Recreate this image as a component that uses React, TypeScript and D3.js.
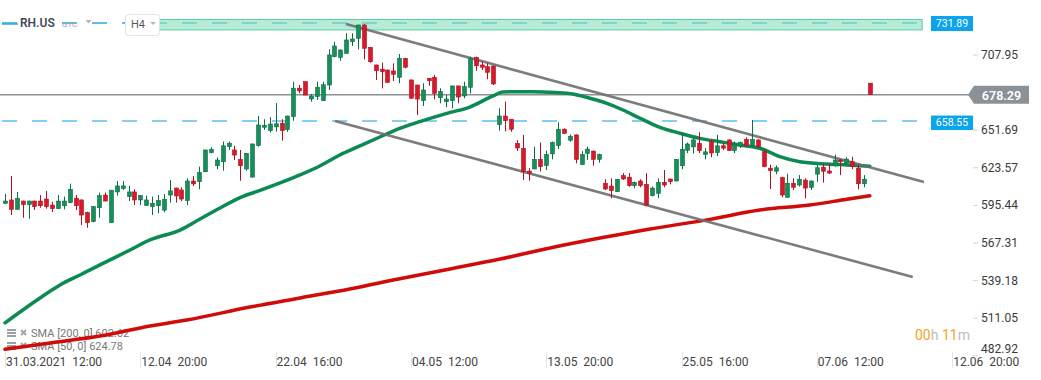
import React from 'react';
import * as d3 from 'd3';

const W = 1041;
const H = 380;

// [open, high, low, close] per H4 candle, starting 31.03.2021 12:00
const candles: [number, number, number, number][] = [
  [597.0, 604.0, 596.5, 598.7], [599.5, 617.4, 588.3, 592.5], [592.5, 605.5, 592.2, 600.8], [598.7, 599.0, 586.2, 596.0],
  [596.0, 599.0, 585.5, 598.7], [598.7, 599.0, 592.0, 594.5], [598.7, 603.2, 593.7, 595.2], [600.2, 606.3, 593.0, 594.5],
  [595.7, 598.2, 590.5, 593.0], [593.0, 603.2, 592.8, 598.7], [595.2, 602.0, 592.5, 598.7], [597.5, 611.7, 597.3, 607.5],
  [600.8, 603.2, 592.0, 595.2], [599.5, 600.0, 580.7, 588.2], [590.0, 590.7, 578.7, 582.5], [583.3, 595.0, 582.8, 594.5],
  [593.7, 605.0, 586.2, 602.7], [603.2, 605.0, 598.5, 598.7], [582.5, 607.0, 582.3, 606.8], [605.5, 613.7, 602.8, 610.0],
  [608.0, 613.7, 607.0, 610.0], [602.0, 610.0, 598.7, 605.5], [605.5, 607.5, 595.7, 599.5], [599.5, 603.0, 595.7, 602.7],
  [595.5, 602.7, 595.0, 599.5], [594.5, 602.0, 588.2, 597.0], [595.2, 603.2, 589.5, 599.1], [591.9, 603.9, 590.2, 600.0],
  [603.2, 614.4, 597.5, 606.3], [608.4, 608.8, 597.5, 602.5], [607.0, 609.0, 598.7, 600.2], [599.1, 615.7, 595.7, 613.7],
  [613.7, 617.4, 610.0, 611.5], [613.2, 624.4, 607.5, 620.1], [620.6, 637.2, 620.3, 636.9], [634.9, 638.9, 634.4, 637.4],
  [625.1, 631.4, 622.5, 629.4], [628.1, 643.2, 621.4, 640.0], [639.4, 643.2, 636.9, 642.0], [636.9, 640.0, 629.4, 633.1],
  [629.9, 636.9, 613.9, 625.1], [622.7, 634.6, 621.4, 634.4], [616.6, 641.6, 616.4, 641.4], [640.2, 662.3, 639.4, 655.6],
  [653.9, 659.9, 651.9, 655.4], [651.4, 661.4, 650.0, 656.3], [654.2, 672.0, 650.6, 656.5], [656.9, 659.9, 643.9, 651.4],
  [652.1, 662.5, 650.5, 662.3], [661.8, 688.0, 658.8, 683.1], [683.1, 685.5, 679.3, 681.1], [688.0, 688.3, 677.8, 678.0],
  [675.0, 678.8, 673.0, 677.3], [676.8, 688.0, 674.3, 683.8], [673.8, 688.0, 673.6, 685.7], [685.5, 712.2, 681.8, 708.0],
  [706.7, 717.9, 706.2, 714.7], [706.2, 712.2, 703.7, 711.7], [709.2, 724.2, 709.0, 719.2], [717.9, 724.2, 714.7, 719.9],
  [720.4, 730.6, 712.2, 730.4], [730.4, 731.1, 704.7, 713.0], [713.7, 714.0, 702.2, 702.9], [700.5, 700.7, 689.3, 696.2],
  [697.3, 702.2, 683.0, 695.5], [696.7, 697.0, 687.2, 687.5], [696.0, 701.7, 688.5, 693.5], [691.3, 708.7, 686.8, 705.5],
  [705.5, 705.7, 698.0, 698.8], [689.3, 689.5, 675.4, 675.6], [685.5, 685.7, 663.0, 675.0], [673.8, 686.8, 669.8, 681.8],
  [690.5, 690.7, 685.0, 688.7], [691.3, 693.0, 674.8, 679.3], [676.0, 683.1, 671.8, 680.5], [673.0, 678.0, 668.8, 675.0],
  [673.8, 685.0, 668.1, 684.8], [684.8, 685.0, 671.8, 676.5], [677.3, 688.0, 675.6, 684.3], [683.8, 706.7, 679.3, 705.5],
  [706.2, 706.7, 696.2, 699.9], [700.5, 703.0, 696.7, 698.8], [699.2, 701.7, 689.8, 695.0], [699.7, 700.0, 685.5, 686.3],
  [655.9, 668.1, 651.4, 662.3], [662.3, 673.0, 650.7, 658.8], [659.9, 660.0, 650.5, 652.4], [641.8, 644.3, 636.2, 638.4],
  [638.1, 648.2, 614.4, 620.8], [621.1, 623.3, 613.9, 619.6], [622.7, 639.4, 622.5, 629.9], [629.9, 642.5, 620.8, 624.4],
  [625.3, 636.4, 621.9, 633.5], [634.0, 643.2, 629.9, 642.5], [640.2, 657.6, 637.6, 652.4], [652.4, 653.1, 648.9, 649.4],
  [644.2, 648.5, 643.0, 647.2], [648.2, 648.5, 626.9, 629.9], [626.0, 636.0, 625.7, 633.5], [634.2, 639.4, 629.4, 637.6],
  [636.1, 636.4, 625.1, 629.9], [629.9, 634.2, 627.4, 633.5], [612.0, 615.0, 607.0, 607.7], [609.9, 615.7, 600.8, 606.5],
  [605.7, 615.2, 605.5, 615.0], [617.7, 619.6, 614.4, 615.2], [616.5, 619.6, 609.4, 610.2], [610.2, 613.2, 608.2, 612.7],
  [613.7, 615.0, 609.0, 610.2], [611.2, 619.6, 595.0, 595.7], [602.7, 609.6, 602.2, 608.4], [604.5, 615.7, 600.8, 612.7],
  [612.7, 621.9, 609.0, 610.7], [615.2, 615.4, 611.2, 613.2], [613.7, 630.1, 613.5, 629.9], [625.1, 649.6, 622.5, 637.4],
  [636.7, 642.5, 634.6, 641.4], [639.2, 646.4, 634.2, 644.4], [641.9, 650.2, 634.6, 636.4], [633.5, 638.3, 629.9, 635.5],
  [643.2, 644.9, 631.4, 634.6], [634.9, 648.2, 632.2, 640.0], [640.0, 641.9, 636.9, 638.3], [644.4, 644.9, 636.2, 636.4],
  [636.4, 643.2, 634.6, 641.2], [640.0, 643.2, 638.3, 642.5], [644.9, 646.4, 639.4, 640.0], [640.0, 659.3, 639.4, 644.9],
  [644.4, 644.9, 638.3, 639.2], [635.6, 637.4, 624.0, 624.4], [623.3, 625.9, 607.7, 621.4], [621.0, 625.4, 618.8, 623.6],
  [616.2, 616.9, 601.5, 603.2], [601.5, 619.1, 601.3, 612.0], [612.0, 615.7, 607.0, 609.0], [610.7, 618.1, 609.5, 615.0],
  [614.4, 615.7, 600.8, 608.4], [609.0, 614.0, 607.0, 613.7], [618.8, 625.6, 613.2, 623.6], [624.0, 626.6, 612.5, 621.0],
  [621.2, 626.3, 619.0, 619.6], [625.1, 633.5, 624.4, 629.4], [629.4, 629.9, 618.1, 628.1], [626.9, 631.4, 626.0, 630.1],
  [628.1, 631.8, 622.5, 624.4], [623.3, 626.0, 607.5, 611.6], [611.6, 618.1, 609.0, 615.0], [686.9, 687.0, 678.2, 678.29],
];

const sma50Idx = [0, 2.55, 5.95, 9.35, 12.75, 16.15, 21.25, 24.65, 29.75, 33.15, 36.55, 39.95, 43.35, 46.75, 50.15, 53.5, 56.9, 60.3, 63.7, 67.1, 70.5, 75.1, 79.0, 82.95, 84.6, 87.5, 89.75, 93.5, 96.5, 99.4, 102.3, 105.05, 107.95, 110.8, 114.7, 118.1, 121.5, 124.9, 128.3, 131.7, 135.1, 139.7, 143.1, 147];
const sma50Val = [507.5, 515.7, 526.2, 535.9, 543.4, 550.9, 562.1, 569.6, 577.0, 585.3, 593.5, 601.3, 606.6, 612.2, 618.2, 624.9, 633.1, 639.9, 646.6, 653.1, 658.1, 664.3, 669.0, 677.3, 680.3, 680.5, 680.5, 679.9, 678.8, 675.6, 671.8, 666.8, 660.6, 654.8, 649.4, 645.6, 643.1, 640.6, 638.2, 631.9, 628.1, 626.4, 625.7, 624.78];

const sma200Idx = [0, 7.65, 16.15, 24.65, 30.9, 41.65, 50.15, 58.6, 67.1, 75.65, 84.15, 92.65, 101.15, 109.65, 119.8, 128.3, 136.8, 143.1, 147];
const sma200Val = [487.8, 492.5, 497.7, 505.2, 509.7, 519.4, 526.2, 532.9, 540.6, 547.9, 555.3, 563.6, 571.0, 577.8, 585.0, 592.0, 595.7, 600.0, 602.62];

// 679.82 is hidden behind the current-price label in the reference
const yTicks = [482.92, 511.05, 539.18, 567.31, 595.44, 623.57, 651.69, 707.95];
const xTickIdx = [0, 23, 46, 69, 92, 115, 138, 161];
const xTickLabels = ['31.03.2021  12:00', '12.04  20:00', '22.04  16:00', '04.05  12:00', '13.05  20:00', '25.05  16:00', '07.06  12:00', '12.06  20:00'];

const lastPrice = 678.29;
const resistanceLevel = 731.89;
const supportLevel = 658.55;
const zoneRange = [726.7, 734.5];
const zoneIdx = [26, 155.9];
const upperTrend: [number, number][] = [[57.96, 731.1], [156.2, 612.9]];
const lowerTrend: [number, number][] = [[56.1, 658.6], [154.3, 541.9]];

const legendItems = ['SMA [200, 0] 602.62', 'SMA [50, 0] 624.78'];

const FONT = 'Roboto, "Noto Sans", sans-serif';
const GREEN = '#16905a';
const GREEN_DARK = '#0c6d42';
const RED = '#d8192b';
const RED_DARK = '#b3101f';
const BLUE = '#0aa5ec';

export default function App() {
  const x = d3.scaleLinear().domain([0, 147]).range([5, 5 + 147 * 5.883]);
  const y = d3.scaleLinear().domain([482.92, 707.95]).range([355.8, 55]);

  const line = d3
    .line<[number, number]>()
    .x((d) => x(d[0]))
    .y((d) => y(d[1]))
    .curve(d3.curveMonotoneX);

  const sma50Pts: [number, number][] = sma50Idx.map((d, i) => [d, sma50Val[i]]);
  const sma200Pts: [number, number][] = sma200Idx.map((d, i) => [d, sma200Val[i]]);

  const yLast = y(lastPrice);
  const yRes = y(resistanceLevel);
  const ySup = y(supportLevel);
  const bodyW = 4;

  return (
    <svg
      width={W}
      height={H}
      style={{ position: 'absolute', left: 0, top: 0, background: '#fff', fontFamily: FONT }}
    >
      <rect x={0} y={0} width={W} height={H} fill="#fff" />

      {/* resistance dashed level */}
      <line x1={2} x2={924} y1={yRes} y2={yRes} stroke="#2aa9e3" strokeWidth={1.5} strokeDasharray="15 15" />
      {/* zone rectangle */}
      <rect
        x={x(zoneIdx[0])}
        y={y(zoneRange[1])}
        width={x(zoneIdx[1]) - x(zoneIdx[0])}
        height={y(zoneRange[0]) - y(zoneRange[1])}
        fill="#8fe2c0"
        fillOpacity={0.65}
        stroke="#5dcea1"
        strokeWidth={1}
      />
      {/* support dashed level */}
      <line x1={2} x2={924} y1={ySup} y2={ySup} stroke="#5ec0ee" strokeWidth={1.5} strokeDasharray="15 15" />
      {/* current price line */}
      <line x1={0} x2={969} y1={yLast} y2={yLast} stroke="#8a9095" strokeWidth={1.5} />

      {/* legend */}
      {legendItems.map((t, i) => {
        const ly = 333 + i * 13;
        return (
          <g key={t}>
            <rect x={7} y={ly - 4} width={9} height={2} fill="#a0a0a0" />
            <rect x={7} y={ly - 1} width={9} height={2} fill="#a0a0a0" />
            <rect x={7} y={ly + 2} width={9} height={2} fill="#a0a0a0" />
            <line x1={21} x2={26} y1={ly - 3} y2={ly + 2} stroke="#a0a0a0" strokeWidth={1.8} />
            <line x1={26} x2={21} y1={ly - 3} y2={ly + 2} stroke="#a0a0a0" strokeWidth={1.8} />
            <text x={31} y={ly} dominantBaseline="central" fontSize={11} fill="#777">
              {t}
            </text>
          </g>
        );
      })}

      {/* SMA lines */}
      <path d={line(sma200Pts) || ''} fill="none" stroke="#d10a0a" strokeWidth={3.5} strokeLinecap="round" />
      <path d={line(sma50Pts) || ''} fill="none" stroke="#0b8a52" strokeWidth={3.5} strokeLinecap="round" />

      {/* trend lines */}
      {[upperTrend, lowerTrend].map((tl, i) => (
        <line
          key={i}
          x1={x(tl[0][0])}
          y1={y(tl[0][1])}
          x2={x(tl[1][0])}
          y2={y(tl[1][1])}
          stroke="#6e6e6e"
          strokeOpacity={0.9}
          strokeWidth={2.6}
        />
      ))}

      {/* candles */}
      {candles.map((c, i) => {
        const [o, h, l, cl] = c;
        const up = cl >= o;
        const cx = Math.round(x(i)) + 0.5;
        const top = y(Math.max(o, cl));
        const bot = y(Math.min(o, cl));
        return (
          <g key={i}>
            <line x1={cx} x2={cx} y1={y(h)} y2={y(l)} stroke={up ? GREEN_DARK : RED_DARK} strokeWidth={1} />
            <rect
              x={cx - bodyW / 2}
              y={top}
              width={bodyW}
              height={Math.max(1, bot - top)}
              fill={up ? GREEN : RED}
              stroke={up ? GREEN_DARK : RED_DARK}
              strokeWidth={0.6}
            />
          </g>
        );
      })}

      {/* header */}
      <line x1={2} x2={18} y1={24} y2={24} stroke="#2aa9e3" strokeWidth={1.5} />
      <rect x={19} y={15} width={37} height={17} fill="#fff" />
      <text x={20} y={23} dominantBaseline="central" fontSize={12} fontWeight={600} fill="#3f4b57">
        RH.US
      </text>
      <text x={62} y={24} dominantBaseline="central" fontSize={8} fill="#9aa3ab">
        GTC
      </text>
      <path d="M85.5,20 L91.5,20 L88.5,23.5 Z" fill="#b5b5b5" />
      <rect x={125.5} y={14.5} width={34} height={21} rx={3} fill="#fff" stroke="#e2e2e2" />
      <text x={131} y={24.5} dominantBaseline="central" fontSize={11} fill="#505a63">
        H4
      </text>
      <path d="M150,22 L156,22 L153,25 Z" fill="#b5b5b5" />

      {/* right axis */}
      {yTicks.map((v) => {
        const ty = Math.min(y(v), 349);
        return (
          <g key={v}>
            <line x1={973} x2={978} y1={y(v)} y2={y(v)} stroke="#d5d5d5" />
            <text x={981} y={ty} dominantBaseline="central" fontSize={12} fill="#3a3a3a">
              {v.toFixed(2)}
            </text>
          </g>
        );
      })}

      {/* level labels */}
      <rect x={931} y={yRes - 7} width={42} height={15} fill={BLUE} />
      <text x={952} y={yRes + 0.5} textAnchor="middle" dominantBaseline="central" fontSize={10.5} fill="#fff">
        {resistanceLevel.toFixed(2)}
      </text>
      <rect x={931} y={ySup - 5.5} width={42} height={14.5} fill={BLUE} />
      <text x={952} y={ySup + 1.8} textAnchor="middle" dominantBaseline="central" fontSize={10.5} fill="#fff">
        {supportLevel.toFixed(2)}
      </text>
      <path
        d={`M968,${yLast} L974,${yLast - 9} L1029,${yLast - 9} L1029,${yLast + 9} L974,${yLast + 9} Z`}
        fill="#8a9297"
      />
      <text x={1001.5} y={yLast + 0.5} textAnchor="middle" dominantBaseline="central" fontSize={12.5} fontWeight={600} fill="#fff">
        {lastPrice.toFixed(2)}
      </text>

      {/* countdown */}
      <text x={915} y={335} dominantBaseline="central" fontSize={14}>
        <tspan fill="#f6a31c">00</tspan>
        <tspan fill="#bdbdbd">h </tspan>
        <tspan fill="#f6a31c">11</tspan>
        <tspan fill="#bdbdbd">m</tspan>
      </text>

      {/* bottom axis */}
      {xTickIdx.map((idx, i) => {
        const tx = x(idx);
        return (
          <g key={idx}>
            <line x1={Math.round(tx) + 0.5} x2={Math.round(tx) + 0.5} y1={352} y2={368} stroke="#e6e6e6" />
            <text x={tx + 1} y={362} dominantBaseline="central" fontSize={12} fill="#444" style={{ whiteSpace: 'pre' }}>
              {xTickLabels[i]}
            </text>
          </g>
        );
      })}
    </svg>
  );
}
